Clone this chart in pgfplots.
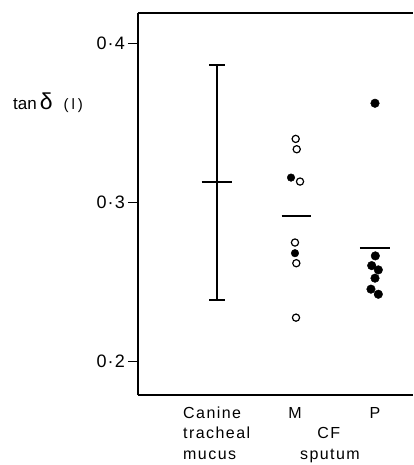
\documentclass[border=0pt]{standalone}
\usepackage{fontspec}
\setmainfont{Liberation Sans}
\newfontfamily\lsp[LetterSpace=9]{Liberation Sans}
\newfontfamily\tsp[LetterSpace=6]{Liberation Sans}
\usepackage{pgfplots}
\pgfplotsset{compat=1.18}
\usetikzlibrary{calc}
\tikzset{lab/.style={inner sep=0pt, font=\lsp\fontsize{16}{18}\selectfont}}
\begin{document}
\begin{tikzpicture}
\begin{axis}[
  scale only axis, width=275pt, height=382pt,
  xmin=0, xmax=3.481, ymin=0.179, ymax=0.419,
  axis x line=box, axis y line=left,
  axis line style={-, line width=1.4pt},
  xtick=\empty,
  ytick={0.2,0.3,0.4},
  yticklabels={{0·2},{0·3},{0·4}},
  yticklabel style={font=\tsp\fontsize{18}{20}\selectfont, inner sep=0pt, xshift=-3pt},
  tick align=outside, major tick length=10pt,
  tick style={line width=1.2pt, black},
  clip=false,
]
% Canine tracheal mucus: range and mean
\addplot[black, line width=1.8pt] coordinates {(1,0.2388) (1,0.3864)};
\addplot[black, line width=1.8pt] coordinates {(0.899,0.3864) (1.101,0.3864)};
\addplot[black, line width=1.8pt] coordinates {(0.899,0.2388) (1.101,0.2388)};
\addplot[black, line width=1.8pt] coordinates {(0.804,0.3129) (1.196,0.3129)};
% CF sputum M: open circles
\addplot[only marks, mark=o, mark size=3.6pt, mark options={line width=1.2pt, black}] coordinates {
 (1.996,0.3399) (2.009,0.3334) (2.051,0.3131) (1.987,0.2748) (2.004,0.2618) (2.0,0.2276)};
\addplot[only marks, mark=*, mark size=3.8pt, mark options={black, fill=black}] coordinates {
 (1.937,0.3156) (1.987,0.2681)};
\addplot[black, line width=1.8pt] coordinates {(1.819,0.2917) (2.19,0.2917)};
% CF sputum P: filled circles
\addplot[only marks, mark=*, mark size=4.3pt, mark options={black, fill=black}] coordinates {
 (3.0,0.3623) (3.004,0.2664) (2.958,0.2603) (3.042,0.2576) (3.0,0.2524) (2.949,0.2455) (3.042,0.2423)};
\addplot[black, line width=1.8pt] coordinates {(2.81,0.2712) (3.19,0.2712)};
% labels
\node[lab, anchor=base west, yshift=-23pt] at (axis cs:0.570,0.179) {Canine};
\node[lab, anchor=base west, yshift=-43pt] at (axis cs:0.570,0.179) {tracheal};
\node[lab, anchor=base west, yshift=-64pt] at (axis cs:0.570,0.179) {mucus};
\node[lab, anchor=base, yshift=-23pt] at (axis cs:1.987,0.179) {M};
\node[lab, anchor=base, yshift=-23pt] at (axis cs:3.0,0.179) {P};
\node[lab, anchor=base, yshift=-43pt] at (axis cs:2.415,0.179) {CF};
\node[lab, anchor=base, yshift=-64pt] at (axis cs:2.43,0.179) {sputum};
\node[anchor=base west, inner sep=0pt] at (axis cs:-1.582,0.3581) {{\fontsize{17}{18}\selectfont tan}\hspace{3pt}{\fontsize{23}{24}\selectfont δ}\hspace{11pt}{\fontsize{15}{16}\selectfont (\hspace{3pt}l\hspace{3pt})}};
\end{axis}
\useasboundingbox ($(current axis.south west)+(-138pt,-70pt)$) rectangle ($(current axis.north east)+(0,13pt)$);
\end{tikzpicture}
\end{document}
